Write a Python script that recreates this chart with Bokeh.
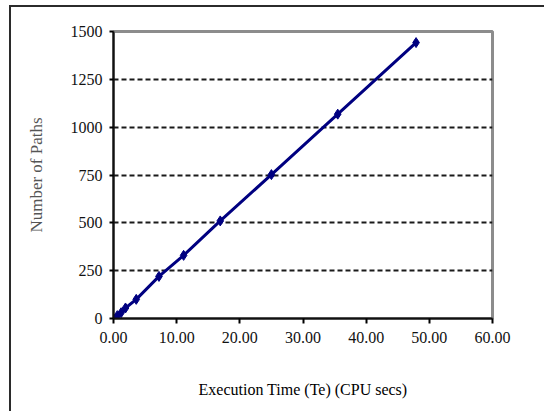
from bokeh.plotting import figure
from bokeh.models import FixedTicker, NumeralTickFormatter, Range1d
from bokeh.embed import file_html
from bokeh.resources import INLINE

# Data
exec_time = [0.0, 0.6, 1.2, 1.9, 3.6, 7.2, 11.1, 16.9, 25.0, 35.5, 47.9]
num_paths = [0, 15, 30, 55, 100, 220, 330, 510, 752, 1068, 1442]
x_ticks = [0, 10, 20, 30, 40, 50, 60]
y_ticks = [0, 250, 500, 750, 1000, 1250, 1500]
grid_ticks = [250, 500, 750, 1000, 1250]

p = figure(width=544, height=411, output_backend="svg", toolbar_location=None,
           x_range=Range1d(0, 60), y_range=Range1d(0, 1500),
           min_border_left=113, min_border_right=52, min_border_top=31, min_border_bottom=93)

p.styles = {"background-color": "#ffffff",
            "box-shadow": "inset 9px 5px 0 0 #ffffff, inset 11px 7px 0 0 #2b2b2b"}
p.border_fill_alpha = 0
p.background_fill_color = "#ffffff"
p.outline_line_color = "#8c8c8c"
p.outline_line_width = 3

serif = "Liberation Serif"

# x axis
p.xaxis.ticker = FixedTicker(ticks=x_ticks)
p.xaxis.formatter = NumeralTickFormatter(format="0.00")
p.xaxis.axis_label = "Execution Time (Te) (CPU secs)"
p.xaxis.axis_label_text_font = serif
p.xaxis.axis_label_text_font_style = "normal"
p.xaxis.axis_label_text_font_size = "16px"
p.xaxis.axis_label_text_color = "#000000"
p.xaxis.axis_label_standoff = 35
p.xaxis.major_label_text_font = serif
p.xaxis.major_label_text_font_size = "16px"
p.xaxis.major_label_text_color = "#111111"
p.xaxis.major_label_standoff = 8
p.xaxis.major_tick_out = 5
p.xaxis.major_tick_in = 0
p.xaxis.minor_tick_line_color = None
p.xaxis.axis_line_color = "#111111"
p.xaxis.axis_line_width = 2
p.xaxis.major_tick_line_width = 2

# y axis
p.yaxis.ticker = FixedTicker(ticks=y_ticks)
p.yaxis.axis_label = "Number of Paths"
p.yaxis.axis_label_text_font = serif
p.yaxis.axis_label_text_font_style = "normal"
p.yaxis.axis_label_text_font_size = "17px"
p.yaxis.axis_label_text_color = "#555555"
p.yaxis.axis_label_standoff = 22
p.yaxis.major_label_text_font = serif
p.yaxis.major_label_text_font_size = "16px"
p.yaxis.major_label_text_color = "#111111"
p.yaxis.major_label_standoff = 7
p.yaxis.major_tick_out = 4
p.yaxis.major_tick_in = 0
p.yaxis.minor_tick_line_color = None
p.yaxis.axis_line_color = "#111111"
p.yaxis.axis_line_width = 2
p.yaxis.major_tick_line_width = 2

# grid
p.xgrid.grid_line_color = None
p.ygrid.ticker = FixedTicker(ticks=grid_ticks)
p.ygrid.grid_line_color = "#1a1a1a"
p.ygrid.grid_line_width = 2
p.ygrid.grid_line_dash = "5 3"

# series
p.line(exec_time, num_paths, line_color="#000080", line_width=3)
p.scatter(exec_time, num_paths, marker="diamond", size=10,
          fill_color="#000080", line_color="#000080")

open("out.html", "w").write(file_html(p, INLINE))
